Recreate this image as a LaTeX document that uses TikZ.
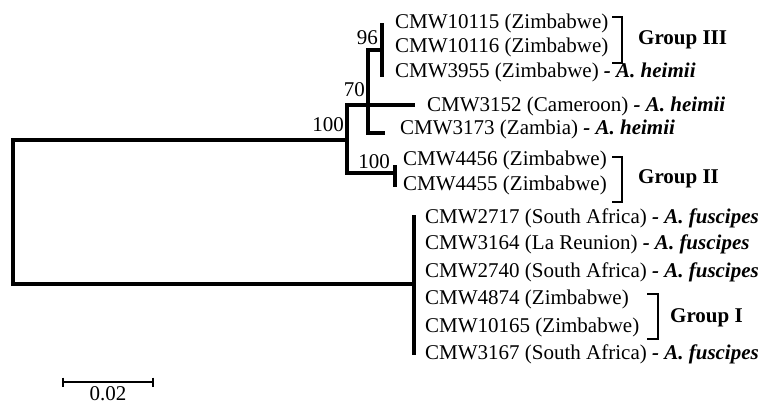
\documentclass[tikz,border=0pt]{standalone}
\usepackage{fontspec}
\setmainfont{Liberation Serif}
\usepackage{tikz}
\usetikzlibrary{positioning, calc}

\newcommand{\species}[1]{\textbf{\textit{- A. #1}}}

\begin{document}
\begin{tikzpicture}[
    x=1pt, y=-1pt,
    font=\fontsize{21}{24}\selectfont,
    taxon/.style={anchor=base west, inner sep=0pt},
    boot/.style={anchor=base east, inner sep=0pt},
    grouplabel/.style={anchor=base west, inner sep=0pt, font=\fontsize{21}{24}\selectfont\bfseries},
    branch/.style={line width=3.5pt},
    bracket/.style={line width=2.6pt}
]
\useasboundingbox (0,0) rectangle (760,403);

% internal nodes
\coordinate (root) at (13,212);
\coordinate (n100) at (347,140);
\coordinate (n70) at (368,105);
\coordinate (n96) at (382,50);
\coordinate (nII) at (395,173);
\coordinate (nI) at (414,284);

% tips
\coordinate (p10115) at (382,23);
\coordinate (p10116) at (382,47);
\coordinate (p3955) at (382,77);
\coordinate (p3152) at (415,105);
\coordinate (p3173) at (385,133);
\coordinate (p4456) at (395,165);
\coordinate (p4455) at (395,187);
\coordinate (pItop) at (414,215);
\coordinate (pIbot) at (414,355);

% branches
\draw[branch] (root) |- (n100);
\draw[branch] (root) |- (nI);
\draw[branch] (n100) |- (n70);
\draw[branch] (n100) |- (nII);
\draw[branch] (n70) |- (n96);
\draw[branch] (n70) -- (p3152);
\draw[branch] (n70) |- (p3173);
\draw[branch] (n96) |- (p10115);
\draw[branch] (n96) |- (p3955);
\draw[branch] (nII) |- (p4456);
\draw[branch] (nII) |- (p4455);
\draw[branch] (nI) |- (pItop);
\draw[branch] (nI) |- (pIbot);

% taxa
\node[taxon] (t10115) at (395,29) {CMW10115 (Zimbabwe)};
\node[taxon] (t10116) at (395,53) {CMW10116 (Zimbabwe)};
\node[taxon] (t3955) at (395,78) {CMW3955 (Zimbabwe) \species{heimii}};
\node[taxon] (t3152) at (427,112) {CMW3152 (Cameroon) \species{heimii}};
\node[taxon] (t3173) at (400,135) {CMW3173 (Zambia) \species{heimii}};
\node[taxon] (t4456) at (403,166) {CMW4456 (Zimbabwe)};
\node[taxon] (t4455) at (403,191) {CMW4455 (Zimbabwe)};
\node[taxon] (t2717) at (425,224) {CMW2717 (South Africa) \species{fuscipes}};
\node[taxon] (t3164) at (425,250) {CMW3164 (La Reunion) \species{fuscipes}};
\node[taxon] (t2740) at (425,277) {CMW2740 (South Africa) \species{fuscipes}};
\node[taxon] (t4874) at (425,304) {CMW4874 (Zimbabwe)};
\node[taxon] (t10165) at (425,332) {CMW10165 (Zimbabwe)};
\node[taxon] (t3167) at (425,359) {CMW3167 (South Africa) \species{fuscipes}};

% bootstrap values
\node[boot] (b100a) at (344,132) {100};
\node[boot] (b96) at (378,45) {96};
\node[boot] (b70) at (365,97) {70};
\node[boot] (b100b) at (390,169) {100};

% group brackets
\coordinate (gIIIa) at (612,17);
\coordinate (gIIIb) at (612,63);
\coordinate (gIIa) at (612,157);
\coordinate (gIIb) at (612,202);
\coordinate (gIa) at (647,294);
\coordinate (gIb) at (647,339);
\draw[bracket] (gIIIa) -- ++(10,0) -- ++(0,46) -- (gIIIb);
\draw[bracket] (gIIa) -- ++(10,0) -- ++(0,45) -- (gIIb);
\draw[bracket] (gIa) -- ++(11,0) -- ++(0,45) -- (gIb);
\node[grouplabel] (gIII) at (638,45) {Group III};
\node[grouplabel] (gII) at (638,184) {Group II};
\node[grouplabel] (gI) at (670,322) {Group I};

% scale bar
\coordinate (sa) at (63,382);
\coordinate (sb) at (153,382);
\draw[line width=2.6pt] (sa) -- (sb);
\draw[line width=2.2pt] ($(sa)+(0,-4.5)$) -- ($(sa)+(0,4.5)$);
\draw[line width=2.2pt] ($(sb)+(0,-4.5)$) -- ($(sb)+(0,4.5)$);
\node[anchor=base, inner sep=0pt] (scale) at (108,400) {0.02};
\end{tikzpicture}
\end{document}
